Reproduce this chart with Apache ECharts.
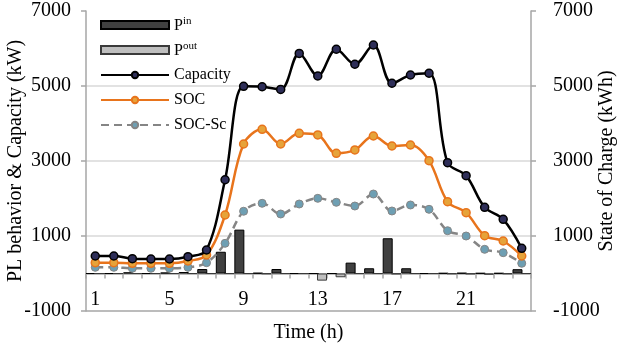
<!DOCTYPE html>
<html>
<head>
<meta charset="utf-8">
<script src="https://cdn.jsdelivr.net/npm/echarts@6/dist/echarts.min.js"></script>
<style>
  html, body { margin: 0; padding: 0; background: #fff; }
  #chart { width: 619px; height: 347px; }
</style>
</head>
<body>
<div id="chart"></div>
<script>
// Hourly power flows and storage state over one day
const hours = ['1','2','3','4','5','6','7','8','9','10','11','12','13','14','15','16','17','18','19','20','21','22','23','24'];
const pIn = [0, 0, 30, 0, 25, 40, 120, 580, 1170, 15, 120, 0, 0, 0, 290, 140, 940, 140, 0, 10, 15, 10, 10, 115];
const pOut = [0, 0, 0, 0, 0, 0, 0, 0, 0, -10, 0, 0, -190, -100, 0, 0, -15, 0, 0, -10, -15, -30, -10, 0];
const capacity = [467, 467, 395, 387, 387, 448, 627, 2500, 4992, 4980, 4910, 5870, 5267, 5980, 5580, 6093, 5073, 5293, 5340, 2955, 2610, 1765, 1445, 672];
const soc = [288, 288, 272, 272, 272, 333, 493, 1560, 3453, 3845, 3453, 3738, 3694, 3205, 3294, 3667, 3400, 3427, 3009, 1916, 1622, 1009, 867, 467];
const socSc = [165, 165, 139, 139, 139, 165, 288, 805, 1660, 1872, 1587, 1853, 2005, 1899, 1800, 2120, 1667, 1827, 1712, 1141, 1000, 645, 555, 272];
const yTicks = { min: -1000, max: 7000, step: 2000 };

const serif = 'Liberation Serif';
const axisGray = '#a6a6a6';
const gridGray = '#d9d9d9';

const chart = echarts.init(document.getElementById('chart'), null, { renderer: 'canvas' });

function legendAt(name, top, extra) {
  return Object.assign({
    data: [name],
    orient: 'vertical',
    left: 95,
    top: top,
    itemWidth: 68,
    itemHeight: 8,
    itemGap: 5,
    selectedMode: false,
    textStyle: {
      fontFamily: serif, fontSize: 16, color: '#000',
      rich: {
        b: { fontFamily: serif, fontSize: 16, color: '#000', lineHeight: 18, verticalAlign: 'bottom' },
        s: { fontFamily: serif, fontSize: 11, color: '#000', lineHeight: 12, verticalAlign: 'top' }
      }
    }
  }, extra || {});
}

const plainNumber = v => String(v);

const option = {
  animation: false,
  backgroundColor: '#fff',
  grid: { left: 86, right: 88, top: 11, bottom: 36, containLabel: false, outerBoundsMode: 'none' },
  legend: [
    legendAt('Pin', 11, { icon: 'rect', formatter: () => '{b|P}{s|in}' }),
    legendAt('Pout', 36, { icon: 'rect', formatter: () => '{b|P}{s|out}' }),
    legendAt('Capacity', 62),
    legendAt('SOC', 87),
    legendAt('SOC-Sc', 112)
  ],
  xAxis: {
    type: 'category',
    data: hours,
    boundaryGap: true,
    name: 'Time (h)',
    nameLocation: 'middle',
    nameGap: 12,
    nameMoveOverlap: false,
    nameTextStyle: { fontFamily: serif, fontSize: 20, color: '#000' },
    axisLine: { onZero: true, lineStyle: { color: axisGray, width: 1.5 } },
    axisTick: { show: true, interval: 0, alignWithLabel: false, length: 5, lineStyle: { color: axisGray, width: 1.5 } },
    axisLabel: { interval: 3, margin: -21, fontFamily: serif, fontSize: 20, color: '#000' },
    splitLine: { show: false }
  },
  yAxis: [
    {
      type: 'value',
      min: yTicks.min, max: yTicks.max, interval: yTicks.step,
      name: 'PL behavior & Capacity (kW)',
      nameLocation: 'middle',
      nameRotate: 90,
      nameGap: 60,
      nameMoveOverlap: false,
      nameTextStyle: { fontFamily: serif, fontSize: 20, color: '#000' },
      axisLine: { show: true, lineStyle: { color: axisGray, width: 1.5 } },
      axisTick: { show: true, length: 5, lineStyle: { color: axisGray, width: 1.5 } },
      axisLabel: { margin: 15, fontFamily: serif, fontSize: 20, color: '#000', formatter: plainNumber },
      splitLine: { show: true, lineStyle: { color: [axisGray, gridGray, gridGray, gridGray, 'rgba(0,0,0,0)'], width: 1.5 } }
    },
    {
      type: 'value',
      position: 'right',
      min: yTicks.min, max: yTicks.max, interval: yTicks.step,
      name: 'State of Charge (kWh)',
      nameLocation: 'middle',
      nameRotate: 90,
      nameGap: 66,
      nameMoveOverlap: false,
      nameTextStyle: { fontFamily: serif, fontSize: 20, color: '#000' },
      axisLine: { show: true, lineStyle: { color: axisGray, width: 1.5 } },
      axisTick: { show: true, length: 5, lineStyle: { color: axisGray, width: 1.5 } },
      axisLabel: { margin: 22, fontFamily: serif, fontSize: 20, color: '#000', formatter: plainNumber },
      splitLine: { show: false }
    }
  ],
  series: [
    {
      name: 'Pin', type: 'bar', data: pIn, barWidth: 10, barGap: '-15%',
      itemStyle: { color: '#404040', borderColor: '#000', borderWidth: 1 }, z: 2
    },
    {
      name: 'Pout', type: 'bar', data: pOut, barWidth: 10,
      itemStyle: { color: '#bfbfbf', borderColor: '#3a3a3a', borderWidth: 1 }, z: 2
    },
    {
      name: 'Capacity', type: 'line', data: capacity, smooth: 0.35,
      symbol: 'circle', symbolSize: 8, z: 5,
      lineStyle: { color: '#000', width: 2.5 },
      itemStyle: { color: '#2e2e58', borderColor: '#000', borderWidth: 1.5 }
    },
    {
      name: 'SOC', type: 'line', data: soc, smooth: 0.35, yAxisIndex: 1,
      symbol: 'circle', symbolSize: 8, z: 4,
      lineStyle: { color: '#e8741c', width: 2.5 },
      itemStyle: { color: '#e6a33a', borderColor: '#e8741c', borderWidth: 1.5 }
    },
    {
      name: 'SOC-Sc', type: 'line', data: socSc, smooth: 0.35, yAxisIndex: 1,
      symbol: 'circle', symbolSize: 8, z: 3,
      lineStyle: { color: '#858585', width: 2.5, type: [8, 5] },
      itemStyle: { color: '#6e9fb3', borderColor: '#858585', borderWidth: 1 }
    }
  ]
};

chart.setOption(option);
</script>
</body>
</html>
